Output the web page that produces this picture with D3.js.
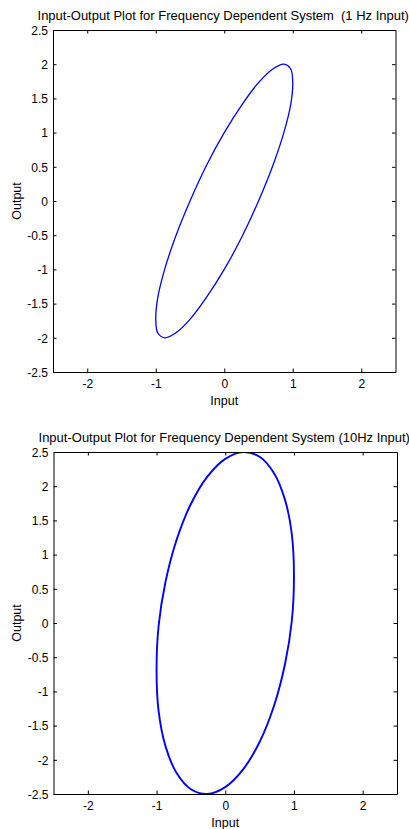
<!DOCTYPE html>
<html>
<head>
<meta charset="utf-8">
<script src="https://cdn.jsdelivr.net/npm/d3@7"></script>
<style>
  html, body { margin: 0; padding: 0; background: #fff; }
  svg { display: block; font-family: "Liberation Sans", Arial, sans-serif; }
</style>
</head>
<body>
<svg id="chart" width="409" height="829"></svg>
<script>
// ---- Data ----
const titles = [
  "Input-Output Plot for Frequency Dependent System  (1 Hz Input)",
  "Input-Output Plot for Frequency Dependent System (10Hz Input)"
];
const xLabel = "Input";
const yLabel = "Output";
const xTicks = [-2, -1, 0, 1, 2];
const yTicks = [-2.5, -2, -1.5, -1, -0.5, 0, 0.5, 1, 1.5, 2, 2.5];
const xDomain = [-2.5, 2.5];
const yDomain = [-2.5, 2.5];

// 1 Hz response: [input, output] points around the loop
const input1Hz  = [0, 0.26, 0.5, 0.71, 0.87, 0.97, 1.0, 0.97, 0.87, 0.71, 0.5, 0.26,
                   0, -0.26, -0.5, -0.71, -0.87, -0.97, -1.0, -0.97, -0.87, -0.71, -0.5, -0.26];
const output1Hz = [1.0, 1.41, 1.73, 1.93, 2.0, 1.93, 1.73, 1.41, 1.0, 0.52, 0, -0.52,
                   -1.0, -1.41, -1.73, -1.93, -2.0, -1.93, -1.73, -1.41, -1.0, -0.52, 0, 0.52];

// 10 Hz response
const input10Hz  = [0, 0.26, 0.5, 0.71, 0.87, 0.97, 1.0, 0.97, 0.87, 0.71, 0.5, 0.26,
                    0, -0.26, -0.5, -0.71, -0.87, -0.97, -1.0, -0.97, -0.87, -0.71, -0.5, -0.26];
const output10Hz = [2.40, 2.50, 2.43, 2.19, 1.80, 1.29, 0.69, 0.04, -0.60, -1.21, -1.74, -2.14,
                    -2.40, -2.50, -2.43, -2.19, -1.80, -1.29, -0.69, -0.04, 0.60, 1.21, 1.74, 2.14];

// ---- Layout ----
const panels = [
  { title: titles[0], xs: input1Hz, ys: output1Hz, left: 53, right: 395.5, top: 30, bottom: 372, lw: 1.3 },
  { title: titles[1], xs: input10Hz, ys: output10Hz, left: 53.5, right: 397, top: 452, bottom: 794, lw: 1.9 }
];

const svg = d3.select("#chart");
const fmt = d => String(d);

panels.forEach((p, i) => {
  const x = d3.scaleLinear().domain(xDomain).range([p.left, p.right]);
  const y = d3.scaleLinear().domain(yDomain).range([p.bottom, p.top]);
  const g = svg.append("g");
  const w = p.right - p.left, h = p.bottom - p.top;
  const tick = 3.5;

  // clip
  svg.append("defs").append("clipPath").attr("id", "clip" + i)
    .append("rect").attr("x", p.left).attr("y", p.top).attr("width", w).attr("height", h);

  // ellipse
  const pts = p.xs.map((v, k) => [v, p.ys[k]]);
  const line = d3.line().x(d => x(d[0])).y(d => y(d[1])).curve(d3.curveCatmullRomClosed.alpha(0.5));
  g.append("path")
    .attr("d", line(pts))
    .attr("clip-path", `url(#clip${i})`)
    .attr("fill", "none")
    .attr("stroke", "#0000ff")
    .attr("stroke-width", p.lw);

  // axes (box with inward ticks)
  const bottomAxis = d3.axisBottom(x).tickValues(xTicks).tickFormat(fmt).tickSizeInner(-tick).tickSizeOuter(0).tickPadding(7);
  const topAxis = d3.axisTop(x).tickValues(xTicks).tickFormat("").tickSizeInner(-tick).tickSizeOuter(0);
  const leftAxis = d3.axisLeft(y).tickValues(yTicks).tickFormat(fmt).tickSizeInner(-tick).tickSizeOuter(0).tickPadding(8);
  const rightAxis = d3.axisRight(y).tickValues(yTicks).tickFormat("").tickSizeInner(-tick).tickSizeOuter(0);

  const gb = g.append("g").attr("transform", `translate(0,${p.bottom})`).call(bottomAxis);
  const gt = g.append("g").attr("transform", `translate(0,${p.top})`).call(topAxis);
  const gl = g.append("g").attr("transform", `translate(${p.left},0)`).call(leftAxis);
  const gr = g.append("g").attr("transform", `translate(${p.right},0)`).call(rightAxis);

  [gb, gt, gl, gr].forEach(a => {
    a.selectAll("path.domain").attr("stroke", "#000").attr("stroke-width", 1);
    a.selectAll(".tick line").attr("stroke", "#000").attr("stroke-width", 1);
    a.selectAll(".tick text").attr("fill", "#000").attr("font-size", 12)
      .attr("font-family", '"Liberation Sans", Arial, sans-serif');
  });
  gb.selectAll(".tick text").attr("dy", null).attr("y", null)
    .attr("transform", null).attr("dominant-baseline", "auto")
    .attr("y", 16);
  gl.selectAll(".tick text").attr("dy", "0.36em").attr("x", -5);

  // title (preserve the double space of the original)
  g.append("text")
    .attr("x", (p.left + p.right) / 2 - 1)
    .attr("y", p.top - 10)
    .attr("text-anchor", "middle")
    .attr("font-size", 13)
    .attr("fill", "#000")
    .attr("xml:space", "preserve")
    .style("white-space", "pre")
    .text(p.title);

  // x label
  g.append("text")
    .attr("x", x(0))
    .attr("y", p.bottom + 32.5)
    .attr("text-anchor", "middle")
    .attr("font-size", 12.5)
    .attr("fill", "#000")
    .text(xLabel);

  // y label
  g.append("text")
    .attr("transform", `translate(20.5,${(p.top + p.bottom) / 2}) rotate(-90)`)
    .attr("text-anchor", "middle")
    .attr("font-size", 12.5)
    .attr("fill", "#000")
    .text(yLabel);
});
</script>
</body>
</html>
